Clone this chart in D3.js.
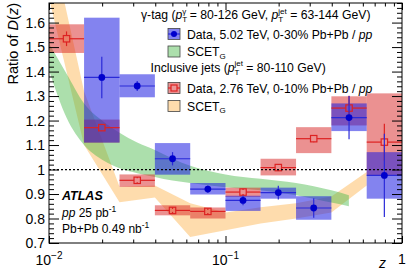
<!DOCTYPE html>
<html>
<head>
<meta charset="utf-8">
<script src="https://cdn.jsdelivr.net/npm/d3@7"></script>
<style>
body { margin: 0; background: #fff; }
text { font-family: "Liberation Sans", Arial, sans-serif; }
</style>
</head>
<body>
<div id="chart"></div>
<script>
// bin edges in z (five per decade)
var zEdges = [0.01, 0.0158, 0.0251, 0.0398, 0.0631, 0.1, 0.158, 0.251, 0.398, 0.631, 1.0];

// photon-tagged, 5.02 TeV, bins 1..9
var gammaVal    = [1.376, 1.341, 1.044, 0.920, 0.874, 0.906, 0.843, 1.212, 0.976];
var gammaStat   = [0.085, 0.020, 0.027, 0.015, 0.020, 0.028, 0.040, 0.088, 0.170];
var gammaSysUp  = [0.244, 0.048, 0.064, 0.025, 0.019, 0.020, 0.048, 0.058, 0.095];
var gammaSysDn  = [0.266, 0.046, 0.065, 0.022, 0.043, 0.025, 0.048, 0.055, 0.095];

// inclusive jets, 2.76 TeV, bins 0..9
var inclVal   = [1.534, 1.171, 0.956, 0.833, 0.829, 0.908, 1.008, 1.126, 1.251, 1.112];
var inclStat  = [0.030, 0.012, 0.008, 0.006, 0.006, 0.008, 0.010, 0.015, 0.050, 0.075];
var inclSysUp = [0.059, 0.033, 0.024, 0.021, 0.016, 0.018, 0.036, 0.047, 0.048, 0.199];
var inclSysDn = [0.058, 0.061, 0.027, 0.020, 0.029, 0.020, 0.032, 0.059, 0.071, 0.136];

// SCET_G bands
var scetGammaZ  = [0.01, 0.0126, 0.0158, 0.02, 0.0251, 0.0316, 0.0398, 0.05, 0.0631, 0.1, 0.158, 0.251, 0.398, 0.5];
var scetGammaHi = [1.515, 1.39, 1.27, 1.20, 1.15, 1.11, 1.08, 1.045, 1.015, 0.98, 0.962, 0.945, 0.915, 0.895];
var scetGammaLo = [1.405, 1.21, 1.10, 1.04, 1.005, 0.985, 0.97, 0.955, 0.945, 0.928, 0.915, 0.895, 0.865, 0.85];

var scetInclZ  = [0.01, 0.0158, 0.0251, 0.0398, 0.0631, 0.1, 0.158, 0.251, 0.398, 0.631];
var scetInclHi = [1.97, 1.32, 0.93, 0.935, 0.862, 0.825, 0.846, 0.862, 0.89, 0.99];
var scetInclLo = [1.70, 1.10, 0.866, 0.886, 0.725, 0.752, 0.78, 0.80, 0.825, 0.935];

var yMajor = [0.7, 0.8, 0.9, 1.0, 1.1, 1.2, 1.3, 1.4, 1.5, 1.6];
var xMajor = [0.01, 0.1, 1];

var svgWidth = 407, svgHeight = 276;
var margin = {top: 3, right: 5, bottom: 33, left: 49};
var chartWidth = svgWidth - margin.left - margin.right;
var chartHeight = svgHeight - margin.top - margin.bottom;

var blueBox = "rgba(30,30,225,0.55)", blueLine = "#2a2ad8", blueMark = "#0000cc";
var redBox = "rgba(215,35,35,0.5)", redLine = "#dd2222";
var greenBand = "rgba(70,185,70,0.45)", orangeBand = "rgba(252,172,60,0.42)";

var svg = d3.select("#chart").append("svg")
    .attr("width", svgWidth)
    .attr("height", svgHeight);

var g = svg.append("g").attr("transform", `translate(${margin.left},${margin.top})`);

var x = d3.scaleLog().domain([0.01, 1]).range([0, chartWidth]);
var y = d3.scaleLinear().domain([0.7, 1.68]).range([chartHeight, 0]);

g.append("clipPath").attr("id", "clip")
  .append("rect").attr("width", chartWidth).attr("height", chartHeight);

var plot = g.append("g").attr("clip-path", "url(#clip)");

// bands
var inclArea = d3.area()
    .x((d, i) => x(scetInclZ[i]))
    .y0((d, i) => y(scetInclLo[i]))
    .y1((d, i) => y(scetInclHi[i]));
plot.append("path").datum(scetInclZ).attr("d", inclArea).attr("fill", orangeBand);

var gammaArea = d3.area()
    .curve(d3.curveMonotoneX)
    .x((d, i) => x(scetGammaZ[i]))
    .y0((d, i) => y(scetGammaLo[i]))
    .y1((d, i) => y(scetGammaHi[i]));
plot.append("path").datum(scetGammaZ).attr("d", gammaArea).attr("fill", greenBand);

// build point records
var gammaPts = gammaVal.map((v, i) => ({
    lo: zEdges[i + 1], hi: zEdges[i + 2], v: v,
    stat: gammaStat[i], up: gammaSysUp[i], dn: gammaSysDn[i]
}));
var inclPts = inclVal.map((v, i) => ({
    lo: zEdges[i], hi: zEdges[i + 1], v: v,
    stat: inclStat[i], up: inclSysUp[i], dn: inclSysDn[i]
}));
var mid = d => Math.sqrt(d.lo * d.hi);

// systematic boxes
plot.append("g").selectAll("rect").data(inclPts).enter().append("rect")
    .attr("x", d => x(d.lo)).attr("width", d => x(d.hi) - x(d.lo))
    .attr("y", d => y(d.v + d.up)).attr("height", d => y(d.v - d.dn) - y(d.v + d.up))
    .attr("fill", redBox);
plot.append("g").selectAll("rect").data(gammaPts).enter().append("rect")
    .attr("x", d => x(d.lo)).attr("width", d => x(d.hi) - x(d.lo))
    .attr("y", d => y(d.v + d.up)).attr("height", d => y(d.v - d.dn) - y(d.v + d.up))
    .attr("fill", blueBox);

// reference line at 1
g.append("line")
    .attr("x1", 0).attr("x2", chartWidth)
    .attr("y1", y(1)).attr("y2", y(1))
    .attr("stroke", "#000").attr("stroke-width", 1.3).attr("stroke-dasharray", "2,2");

// inclusive jets: error bars with a gap for the open square
var sq = 3.2;
var inclG = plot.append("g").attr("stroke", redLine).attr("stroke-width", 1.2);
inclPts.forEach(function(d) {
    var cx = x(mid(d)), cy = y(d.v);
    inclG.append("line").attr("x1", x(d.lo)).attr("x2", cx - sq).attr("y1", cy).attr("y2", cy);
    inclG.append("line").attr("x1", cx + sq).attr("x2", x(d.hi)).attr("y1", cy).attr("y2", cy);
    inclG.append("line").attr("x1", cx).attr("x2", cx).attr("y1", y(d.v + d.stat)).attr("y2", cy - sq);
    inclG.append("line").attr("x1", cx).attr("x2", cx).attr("y1", cy + sq).attr("y2", y(d.v - d.stat));
    inclG.append("rect").attr("x", cx - sq).attr("y", cy - sq)
        .attr("width", 2 * sq).attr("height", 2 * sq).attr("fill", "none");
});

// photon-tagged points
var gamG = plot.append("g").attr("stroke", blueLine).attr("stroke-width", 1.2);
gammaPts.forEach(function(d) {
    var cx = x(mid(d)), cy = y(d.v);
    gamG.append("line").attr("x1", x(d.lo)).attr("x2", x(d.hi)).attr("y1", cy).attr("y2", cy);
    gamG.append("line").attr("x1", cx).attr("x2", cx).attr("y1", y(d.v + d.stat)).attr("y2", y(d.v - d.stat));
});
plot.append("g").selectAll("circle").data(gammaPts).enter().append("circle")
    .attr("cx", d => x(mid(d))).attr("cy", d => y(d.v)).attr("r", 3.4)
    .attr("fill", blueMark);

// axes (ticks pointing inward)
var yMinor = d3.range(35, 85).map(k => k / 50).filter(v => Math.abs(v * 10 - Math.round(v * 10)) > 1e-6);
var xMinor = [];
[0.01, 0.1].forEach(b => { for (var k = 2; k <= 9; k++) xMinor.push(b * k); });

function tickAxis(gen, vals, size) {
    return gen.tickValues(vals).tickSize(size).tickFormat("");
}
var axes = g.append("g");
axes.append("g").call(tickAxis(d3.axisLeft(y), yMajor, -10));
axes.append("g").call(tickAxis(d3.axisLeft(y), yMinor, -5));
axes.append("g").attr("transform", `translate(${chartWidth},0)`).call(tickAxis(d3.axisRight(y), yMajor, -10));
axes.append("g").attr("transform", `translate(${chartWidth},0)`).call(tickAxis(d3.axisRight(y), yMinor, -5));
axes.append("g").attr("transform", `translate(0,${chartHeight})`).call(tickAxis(d3.axisBottom(x), xMajor, -7));
axes.append("g").attr("transform", `translate(0,${chartHeight})`).call(tickAxis(d3.axisBottom(x), xMinor, -3.5));
axes.append("g").call(tickAxis(d3.axisTop(x), xMajor, -7));
axes.append("g").call(tickAxis(d3.axisTop(x), xMinor, -3.5));
axes.selectAll(".domain").attr("stroke", "#000").attr("d", null);
axes.selectAll("line").attr("stroke", "#000");
g.append("rect").attr("width", chartWidth).attr("height", chartHeight)
    .attr("fill", "none").attr("stroke", "#000").attr("stroke-width", 1);

// tick labels
g.append("g").selectAll("text").data(yMajor).enter().append("text")
    .attr("x", -4).attr("y", d => y(d)).attr("dy", "0.36em")
    .attr("text-anchor", "end").attr("font-size", 14)
    .text(d => d3.format("")(d));

var xl = g.append("g").attr("font-size", 14);
[["10", "\u22122", 0.01], ["10", "\u22121", 0.1]].forEach(function(t) {
    var tx = xl.append("text").attr("x", x(t[2])).attr("y", chartHeight + 22).attr("text-anchor", "middle");
    tx.append("tspan").text(t[0]);
    tx.append("tspan").attr("font-size", 10).attr("dy", -6).text(t[1]);
});
xl.append("text").attr("x", x(1)).attr("y", chartHeight + 21).attr("text-anchor", "middle").text("1");

// axis titles
var yt = g.append("text").attr("transform", "rotate(-90)")
    .attr("x", 0).attr("y", -31).attr("text-anchor", "end").attr("font-size", 14.5);
yt.append("tspan").text("Ratio of ");
yt.append("tspan").attr("font-style", "italic").text("D");
yt.append("tspan").text("(");
yt.append("tspan").attr("font-style", "italic").text("z");
yt.append("tspan").text(")");

g.append("text").attr("x", 330).attr("y", chartHeight + 25)
    .attr("font-size", 14).attr("font-style", "italic").text("z");

// ATLAS label
var lab = g.append("g").attr("font-size", 12);
lab.append("text").attr("x", 13).attr("y", 197).attr("font-size", 12.5)
    .attr("font-weight", "bold").attr("font-style", "italic").text("ATLAS");
var l2 = lab.append("text").attr("x", 13).attr("y", 213.5);
l2.append("tspan").attr("font-style", "italic").text("pp");
l2.append("tspan").text(" 25 pb");
l2.append("tspan").attr("font-size", 8.5).attr("dy", -5).text("-1");
var l3 = lab.append("text").attr("x", 13).attr("y", 230);
l3.append("tspan").text("Pb+Pb 0.49 nb");
l3.append("tspan").attr("font-size", 8.5).attr("dy", -5).text("-1");

// legend
var leg = g.append("g").attr("font-size", 12.2);

function ptLabel(t, sup, tail) {
    t.append("tspan").attr("font-style", "italic").text("p");
    t.append("tspan").attr("font-size", 8).attr("dy", 3).text("T");
    t.append("tspan").attr("font-size", 8).attr("dx", -4.9).attr("dy", -8.5).text(sup);
    t.append("tspan").attr("dy", 5.5).text(tail);
}

var h1 = leg.append("text").attr("x", 92).attr("y", 16);
h1.append("tspan").text("\u03b3-tag (");
ptLabel(h1, "\u03b3", " = 80-126 GeV, ");
ptLabel(h1, "jet", " = 63-144 GeV)");

var h2 = leg.append("text").attr("x", 101.5).attr("y", 68.5);
h2.append("tspan").text("Inclusive jets (");
ptLabel(h2, "jet", " = 80-110 GeV)");

var entries = [
    {y: 31, fill: blueBox, kind: "blue", label: ["Data, 5.02 TeV, 0-30% Pb+Pb / ", "pp"]},
    {y: 48.5, fill: greenBand, kind: "band", label: ["SCET", "G"]},
    {y: 85, fill: redBox, kind: "red", label: ["Data, 2.76 TeV, 0-10% Pb+Pb / ", "pp"]},
    {y: 103, fill: orangeBand, kind: "band", label: ["SCET", "G"]}
];
entries.forEach(function(e) {
    var bx = 119, bw = 12, bh = 11;
    leg.append("rect").attr("x", bx).attr("y", e.y - bh / 2).attr("width", bw).attr("height", bh)
        .attr("fill", e.fill).attr("stroke", "#444").attr("stroke-width", 0.8);
    if (e.kind === "blue") {
        leg.append("line").attr("x1", bx).attr("x2", bx + bw).attr("y1", e.y).attr("y2", e.y)
            .attr("stroke", blueLine).attr("stroke-width", 1.2);
        leg.append("circle").attr("cx", bx + bw / 2).attr("cy", e.y).attr("r", 3).attr("fill", blueMark);
    } else if (e.kind === "red") {
        leg.append("line").attr("x1", bx).attr("x2", bx + bw).attr("y1", e.y).attr("y2", e.y)
            .attr("stroke", redLine).attr("stroke-width", 1.2);
        leg.append("rect").attr("x", bx + bw / 2 - 3).attr("y", e.y - 3).attr("width", 6).attr("height", 6)
            .attr("fill", "rgba(235,150,150,1)").attr("stroke", redLine).attr("stroke-width", 1.2);
    }
    var t = leg.append("text").attr("x", 138).attr("y", e.y + 4.5);
    if (e.kind === "band") {
        t.append("tspan").text(e.label[0]);
        t.append("tspan").attr("font-size", 8).attr("dy", 2.5).text(e.label[1]);
    } else {
        t.append("tspan").text(e.label[0]);
        t.append("tspan").attr("font-style", "italic").text(e.label[1]);
    }
});
</script>
</body>
</html>
